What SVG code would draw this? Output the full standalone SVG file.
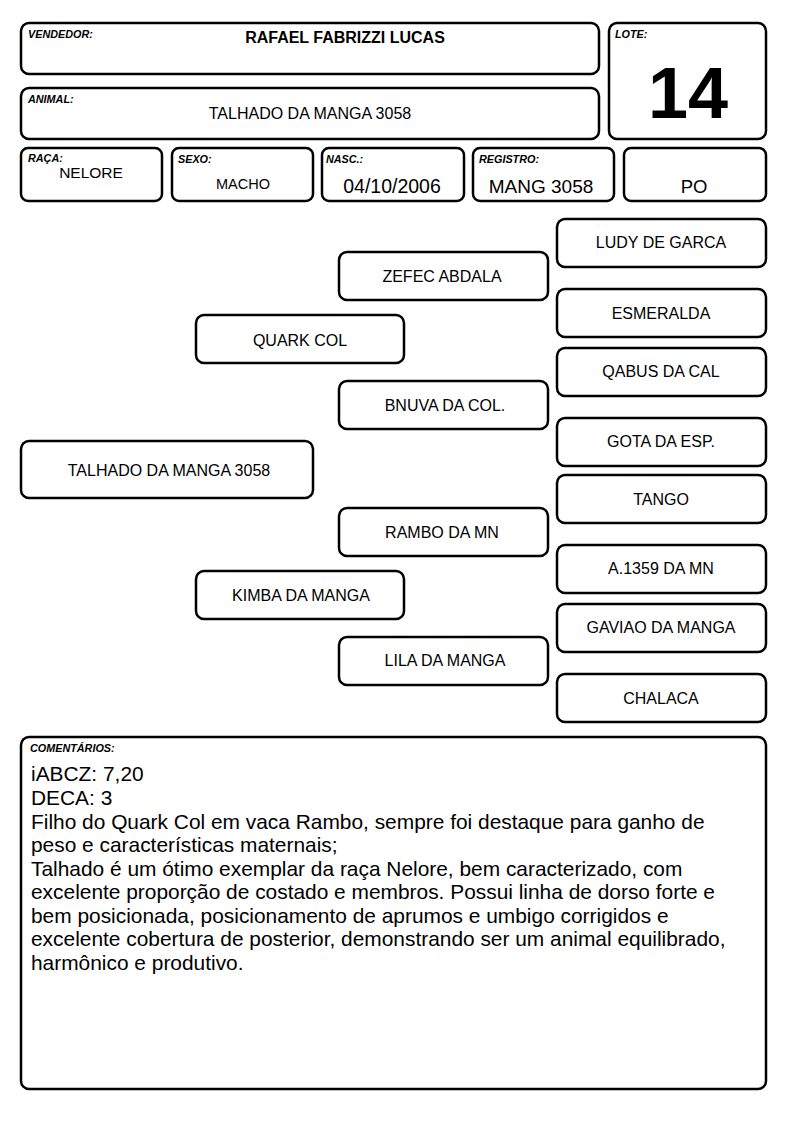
<svg xmlns="http://www.w3.org/2000/svg" width="794" height="1123" viewBox="0 0 794 1123">
<style>
.b{fill:#fff;stroke:#000;stroke-width:2.5}
.l{font-family:"Liberation Sans",Arial,sans-serif;font-size:10.8px;font-weight:bold;font-style:italic;fill:#000}
.t{font-family:"Liberation Sans",Arial,sans-serif;fill:#000;text-anchor:middle}
.p{font-family:"Liberation Sans",Arial,sans-serif;font-size:16px;fill:#000;text-anchor:middle}
.c{font-family:"Liberation Sans",Arial,sans-serif;font-size:20.9px;fill:#000}
</style>
<rect width="794" height="1123" fill="#fff"/>
<g id="vendedor"><rect class="b" x="21" y="23" width="578" height="51" rx="8"/><text class="l" x="28" y="38">VENDEDOR:</text><text class="t" x="345" y="43" font-size="16" font-weight="bold">RAFAEL FABRIZZI LUCAS</text></g>
<g id="animal"><rect class="b" x="21" y="88" width="578" height="51" rx="8"/><text class="l" x="28" y="103">ANIMAL:</text><text class="t" x="310" y="119" font-size="16">TALHADO DA MANGA 3058</text></g>
<g id="lote"><rect class="b" x="609" y="23" width="157" height="116" rx="8"/><text class="l" x="615" y="38">LOTE:</text><text class="t" x="688" y="118" font-size="72" font-weight="bold">14</text></g>
<g id="raca"><rect class="b" x="21" y="148" width="141" height="53" rx="7"/><text class="l" x="28" y="162">RAÇA:</text><text class="t" x="91" y="178" font-size="15.5">NELORE</text></g>
<g id="sexo"><rect class="b" x="172" y="148" width="141" height="53" rx="7"/><text class="l" x="178" y="163">SEXO:</text><text class="t" x="243" y="189" font-size="14.5">MACHO</text></g>
<g id="nasc"><rect class="b" x="322" y="148" width="142" height="53" rx="7"/><text class="l" x="326" y="163">NASC.:</text><text class="t" x="392" y="193" font-size="19.5">04/10/2006</text></g>
<g id="registro"><rect class="b" x="473" y="148" width="141" height="53" rx="7"/><text class="l" x="479" y="163">REGISTRO:</text><text class="t" x="541" y="193" font-size="19">MANG 3058</text></g>
<g id="po"><rect class="b" x="624" y="148" width="142" height="53" rx="7"/><text class="t" x="694" y="193" font-size="18.5">PO</text></g>
<g id="ludy"><rect class="b" x="557" y="219" width="209" height="48" rx="8"/><text class="p" x="661" y="248">LUDY DE GARCA</text></g>
<g id="esmeralda"><rect class="b" x="557" y="289" width="209" height="48" rx="8"/><text class="p" x="661" y="319">ESMERALDA</text></g>
<g id="qabus"><rect class="b" x="557" y="348" width="209" height="48" rx="8"/><text class="p" x="661" y="377">QABUS DA CAL</text></g>
<g id="gota"><rect class="b" x="557" y="418" width="209" height="48" rx="8"/><text class="p" x="661" y="447">GOTA DA ESP.</text></g>
<g id="tango"><rect class="b" x="557" y="475" width="209" height="48" rx="8"/><text class="p" x="661" y="505">TANGO</text></g>
<g id="a1359"><rect class="b" x="557" y="545" width="209" height="48" rx="8"/><text class="p" x="661" y="574">A.1359 DA MN</text></g>
<g id="gaviao"><rect class="b" x="557" y="604" width="209" height="48" rx="8"/><text class="p" x="661" y="633">GAVIAO DA MANGA</text></g>
<g id="chalaca"><rect class="b" x="557" y="674" width="209" height="48" rx="8"/><text class="p" x="661" y="704">CHALACA</text></g>
<g id="zefec"><rect class="b" x="339" y="252" width="209" height="48" rx="8"/><text class="p" x="442" y="282">ZEFEC ABDALA</text></g>
<g id="bnuva"><rect class="b" x="339" y="381" width="209" height="48" rx="8"/><text class="p" x="445" y="411">BNUVA DA COL.</text></g>
<g id="rambo"><rect class="b" x="339" y="508" width="209" height="48" rx="8"/><text class="p" x="442" y="538">RAMBO DA MN</text></g>
<g id="lila"><rect class="b" x="339" y="637" width="209" height="48" rx="8"/><text class="p" x="445" y="666">LILA DA MANGA</text></g>
<g id="quark"><rect class="b" x="196" y="315" width="208" height="48" rx="8"/><text class="p" x="300" y="346">QUARK COL</text></g>
<g id="kimba"><rect class="b" x="196" y="571" width="208" height="48" rx="8"/><text class="p" x="301" y="601">KIMBA DA MANGA</text></g>
<g id="talhado"><rect class="b" x="21" y="441" width="292" height="57" rx="8"/><text class="p" x="169" y="476">TALHADO DA MANGA 3058</text></g>
<g id="comentarios"><rect class="b" x="21" y="737" width="745" height="352" rx="8"/><text class="l" x="30" y="752">COMENTÁRIOS:</text>
<text class="c" x="31" y="781">iABCZ: 7,20</text>
<text class="c" x="31" y="805">DECA: 3</text>
<text class="c" x="31" y="829">Filho do Quark Col em vaca Rambo, sempre foi destaque para ganho de</text>
<text class="c" x="31" y="852">peso e características maternais;</text>
<text class="c" x="31" y="876">Talhado é um ótimo exemplar da raça Nelore, bem caracterizado, com</text>
<text class="c" x="31" y="899">excelente proporção de costado e membros. Possui linha de dorso forte e</text>
<text class="c" x="31" y="923">bem posicionada, posicionamento de aprumos e umbigo corrigidos e</text>
<text class="c" x="31" y="946">excelente cobertura de posterior, demonstrando ser um animal equilibrado,</text>
<text class="c" x="31" y="970">harmônico e produtivo.</text>
</g>
</svg>
